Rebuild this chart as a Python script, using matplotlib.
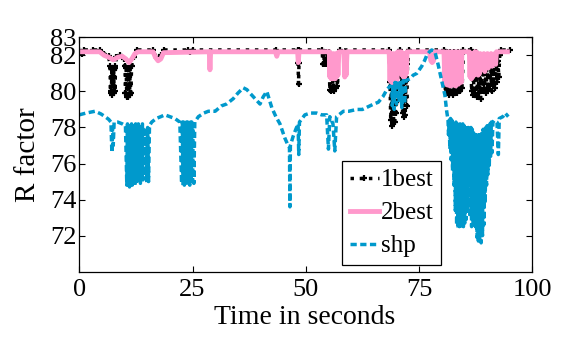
import numpy as np
import matplotlib
matplotlib.use("Agg")
import matplotlib.pyplot as plt

plt.rcParams['font.family'] = ['Liberation Serif', 'DejaVu Serif']

# 1best (black dotted with + markers)
t1 = [0.0, 0.5, 1.0, 3.0, 4.5, 5.5, 6.5,
      6.8, 6.9, 7.0, 7.1, 7.2, 7.3, 7.4, 7.5, 7.6, 7.7, 7.8, 7.9, 8.0, 8.2,
      9.0, 9.8,
      10.1, 10.2, 10.35, 10.5, 10.65, 10.8, 10.95, 11.1, 11.25, 11.4, 11.55,
      12.0, 12.8, 16.3, 16.9, 17.5, 18.1, 18.7, 24.0, 24.5, 25.0, 43.5,
      48.2, 48.3, 48.4, 48.5, 48.6, 53.6,
      53.8, 53.95, 54.1, 54.25, 54.4, 54.55, 54.7, 54.85, 55.0, 55.15,
      55.3, 55.45, 55.6, 55.75, 55.9, 56.05, 56.2, 56.4, 56.6, 56.8, 57.0, 57.2,
      57.5, 68.4,
      68.6, 68.75, 68.9, 69.05, 69.2, 69.35, 69.5, 69.65, 69.8, 69.95, 70.1, 70.3, 70.45,
      70.8,
      71.2, 71.35, 71.5, 71.65, 71.8, 71.95, 72.1, 72.3, 72.45,
      72.8, 80.5,
      80.7, 80.9, 81.1, 81.3, 81.5, 81.7, 81.9, 82.1, 82.3, 82.5, 82.7, 82.9,
      83.1, 83.3, 83.5, 83.7, 83.9, 84.1, 84.3, 84.5,
      84.8, 86.4,
      86.6, 86.8, 87.0, 87.2, 87.4, 87.6, 87.8, 88.0, 88.2, 88.4, 88.6, 88.8,
      89.0, 89.2, 89.4, 89.6, 89.8, 90.0, 90.2, 90.4, 90.6, 90.8, 91.0, 91.2,
      91.4, 91.6, 91.8, 92.0, 92.2, 92.4, 92.6, 92.8,
      93.1, 95.1]
r1 = [82.3, 82.1, 82.3, 82.3, 82.3, 82.1, 81.95,
      81.4, 80.0, 81.3, 79.9, 81.3, 79.8, 81.3, 79.9, 81.2, 79.9, 81.3, 80.0, 81.4, 81.9,
      82.0, 81.8,
      81.4, 79.9, 81.3, 79.7, 81.3, 79.7, 81.3, 79.8, 81.3, 79.9, 81.4,
      81.9, 82.3, 82.3, 81.9, 81.8, 82.0, 82.3, 82.3, 82.2, 82.3, 82.3,
      82.3, 81.6, 80.4, 81.6, 82.3, 82.3,
      81.5, 82.2, 81.5, 82.2, 81.5, 82.2, 81.5, 82.1, 81.6, 82.2,
      80.1, 81.8, 80.0, 81.5, 80.1, 81.7, 80.0, 81.5, 80.2, 81.6, 80.3, 81.9,
      82.3, 82.3,
      80.5, 78.4, 80.3, 78.1, 80.2, 78.2, 80.4, 78.3, 80.1, 78.8, 80.3, 79.5, 81.0,
      82.3,
      80.8, 78.8, 80.6, 78.6, 80.5, 78.7, 80.6, 79.2, 81.5,
      82.3, 82.3,
      80.4, 79.9, 82.2, 80.0, 82.0, 79.8, 82.2, 79.9, 81.8, 79.8, 82.2, 80.0,
      82.1, 79.9, 82.2, 80.1, 82.0, 80.0, 81.9, 80.2,
      82.3, 82.3,
      80.0, 82.2, 79.8, 82.1, 79.9, 82.2, 79.7, 81.9, 79.9, 81.8, 79.6, 81.6,
      80.0, 81.7, 80.2, 81.6, 79.9, 81.8, 80.1, 81.6, 80.3, 81.7, 80.0, 81.8,
      80.4, 81.6, 80.2, 81.9, 80.5, 81.7, 80.8, 82.0,
      82.3, 82.3]

# 2best (pink solid)
t2 = [0.0, 4.5, 5.5, 6.5, 7.5, 8.5, 9.5, 10.3, 11.0, 11.6, 12.3, 13.0,
      16.3, 16.8, 17.4, 18.0, 18.6, 28.7, 28.85, 29.0, 43.3, 43.6, 43.9,
      48.2, 48.35, 48.5, 55.2,
      55.3, 55.45, 55.6, 55.75, 55.9, 56.05, 56.2, 56.35, 56.5, 56.65, 56.8, 56.95, 57.1, 57.3,
      58.4, 58.6, 58.75, 58.9, 59.1,
      68.4,
      68.6, 68.75, 68.9, 69.05, 69.2, 69.35, 69.5, 69.65, 69.8, 69.95, 70.1, 70.3,
      71.1, 71.25, 71.4, 71.55, 71.7, 71.85, 72.0, 72.2, 72.35,
      77.3, 77.6, 77.9, 78.2, 78.5, 80.5,
      80.7, 80.85, 81.0, 81.15, 81.3, 81.45, 81.6, 81.75, 81.9, 82.05, 82.2, 82.35,
      82.5, 82.65, 82.8, 82.95, 83.1, 83.25, 83.4, 83.55, 83.7, 83.85, 84.0, 84.15,
      84.3, 84.45,
      84.7, 86.1,
      86.25, 86.4, 86.55, 86.7, 86.85, 87.0, 87.15, 87.3,
      87.6,
      87.75, 87.9, 88.05, 88.2, 88.35, 88.5, 88.7, 88.9, 89.1, 89.3, 89.5, 89.7,
      89.9, 90.1, 90.3, 90.5, 90.7, 90.9, 91.1, 91.3, 91.5, 91.7, 91.9, 92.1,
      94.5]
r2 = [82.2, 82.2, 82.0, 81.9, 81.75, 81.9, 81.95, 81.8, 81.6, 81.8, 82.1, 82.2,
      82.2, 81.9, 81.7, 81.8, 82.15, 82.2, 81.2, 82.2, 82.2, 81.95, 82.2,
      82.2, 81.6, 82.2, 82.2,
      80.8, 82.1, 80.7, 82.0, 80.7, 82.1, 80.8, 82.0, 80.7, 82.1, 80.8, 82.0, 80.9, 82.2,
      82.2, 80.8, 82.1, 80.9, 82.2,
      82.2,
      80.6, 82.1, 80.5, 82.0, 80.5, 82.1, 80.6, 82.0, 80.5, 82.1, 80.6, 82.2,
      82.2, 80.9, 82.1, 80.8, 82.0, 80.8, 82.1, 81.0, 82.2,
      82.2, 81.7, 81.6, 81.7, 82.2, 82.2,
      80.5, 82.1, 80.4, 82.2, 80.35, 82.1, 80.4, 82.2, 80.3, 82.1, 80.4, 82.2,
      80.35, 82.1, 80.4, 82.2, 80.3, 82.1, 80.5, 82.2, 80.4, 82.1, 80.6, 82.2,
      80.5, 82.1,
      82.2, 82.2,
      80.8, 82.1, 80.7, 82.0, 80.8, 82.1, 80.9, 82.2,
      82.2,
      81.0, 82.1, 80.9, 82.0, 81.0, 82.1, 81.2, 82.0, 81.3, 82.1, 81.1, 82.0,
      81.4, 82.1, 81.3, 82.0, 81.5, 82.1, 81.4, 82.0, 81.6, 82.1, 81.5, 82.2,
      82.2]

# shp (blue dashed)
t3 = [0.0, 1.5, 3.5, 4.8, 5.7, 6.5, 7.0, 7.2, 7.35, 7.5, 7.7, 8.5, 9.5, 10.2,
      10.5, 10.65, 10.8, 10.95, 11.1, 11.25, 11.4, 11.55, 11.7, 11.85, 12.0, 12.15,
      12.3, 12.45, 12.6, 12.75, 12.9, 13.05, 13.2, 13.35, 13.5, 13.65, 13.8, 13.95,
      14.1, 14.3, 14.5, 14.7, 14.9, 15.1, 15.3, 15.5,
      16.0, 17.0, 18.0, 18.9, 20.0, 21.1, 22.2,
      22.6, 22.75, 22.9, 23.05, 23.2, 23.35, 23.5, 23.65, 23.8, 23.95, 24.1, 24.25,
      24.4, 24.55, 24.7, 24.85, 25.0, 25.15, 25.3, 25.5,
      26.3, 27.5, 28.5, 30.0, 31.4, 32.5, 34.0, 35.0, 36.2, 37.0, 37.7, 38.8,
      39.9, 40.6, 41.4, 42.0, 42.5, 43.4, 44.3, 45.4, 46.1, 46.4, 46.5, 46.6,
      47.2, 47.8, 48.3, 48.45, 48.6, 49.8, 51.0, 52.4, 53.5, 54.6, 55.0, 55.3,
      56.0, 56.4, 56.8, 58.3, 59.5, 61.2, 62.5, 64.2, 65.0, 66.0, 67.0, 67.9, 68.6,
      69.0, 69.1, 69.3, 69.5, 69.7, 70.0, 70.3, 70.6, 70.9, 71.2, 71.5, 71.8, 72.1,
      73.0, 73.7, 74.5, 75.6, 76.2, 76.7, 77.3, 77.8, 78.5, 79.2, 80.0, 80.7,
      81.1, 81.4,
      81.5, 81.65, 81.8, 81.95, 82.1, 82.25, 82.4, 82.55, 82.7, 82.85, 83.0, 83.15,
      83.3, 83.45, 83.6, 83.75, 83.9, 84.05, 84.2, 84.35, 84.5, 84.65, 84.8, 84.95,
      85.1, 85.25, 85.4, 85.55, 85.7, 85.85, 86.0, 86.15, 86.3, 86.45, 86.6, 86.75,
      86.9, 87.05, 87.2, 87.35, 87.5, 87.65, 87.8, 87.95, 88.1, 88.25, 88.4, 88.55,
      88.7, 88.85, 89.0, 89.15, 89.3, 89.45, 89.6, 89.75, 89.9, 90.05, 90.2, 90.35,
      90.5, 90.65, 90.8, 90.95, 91.1, 91.3,
      91.6, 92.2, 92.5, 92.7, 93.5, 94.0, 94.7]
r3 = [78.7, 78.8, 78.9, 78.75, 78.6, 78.45, 78.3, 76.6, 78.0, 77.0, 78.3, 78.3, 78.2, 78.1,
      74.8, 78.2, 74.7, 78.1, 74.7, 78.2, 74.9, 78.2, 74.8, 78.1, 74.9, 78.2,
      74.8, 78.2, 75.0, 78.1, 74.9, 78.2, 75.0, 78.2, 74.9, 78.1, 75.0, 78.2,
      75.1, 78.0, 75.3, 77.8, 74.9, 78.0, 75.0, 78.1,
      78.3, 78.5, 78.6, 78.7, 78.6, 78.5, 78.3,
      74.9, 78.3, 74.8, 78.3, 74.8, 78.2, 74.9, 78.3, 74.8, 78.3, 74.9, 78.2,
      74.8, 78.3, 74.9, 78.3, 75.0, 78.2, 74.9, 78.3,
      78.6, 78.8, 78.9, 78.9, 79.2, 79.3, 79.6, 79.9, 80.2, 80.1, 79.9, 79.6,
      79.3, 79.7, 80.0, 79.5, 79.1, 78.6, 78.2, 77.4, 77.0, 76.9, 73.6, 77.0,
      77.5, 77.9, 78.2, 76.5, 78.3, 78.7, 78.8, 78.8, 78.7, 78.7, 76.8, 78.6,
      78.2, 76.7, 78.6, 78.9, 78.9, 79.0, 79.0, 79.2, 79.3, 79.4, 79.7, 80.1, 80.3,
      80.2, 79.2, 80.4, 79.0, 80.5, 79.3, 80.6, 79.4, 80.5, 79.1, 80.6, 79.3, 80.6,
      80.7, 80.9, 81.0, 81.4, 81.7, 82.0, 82.2, 82.3, 82.2, 81.5, 80.6, 79.8,
      78.9, 78.4,
      77.6, 78.4, 76.8, 78.5, 76.2, 78.4, 75.6, 78.3, 74.8, 78.4, 73.4, 78.3,
      72.6, 78.2, 72.4, 78.3, 72.5, 78.2, 72.4, 78.1, 72.6, 78.2, 72.5, 78.1,
      72.7, 78.0, 72.9, 78.1, 73.3, 78.0, 73.6, 77.9, 73.0, 78.0, 72.5, 77.9,
      72.6, 77.7, 73.4, 77.6, 72.4, 77.6, 71.9, 77.5, 71.7, 77.6, 71.8, 77.7,
      71.6, 77.8, 72.0, 77.9, 72.6, 77.9, 73.8, 78.0, 74.8, 78.1, 75.4, 78.2,
      75.9, 78.2, 76.4, 78.3, 76.6, 78.3,
      78.4, 78.3, 76.5, 78.5, 78.6, 78.8, 78.6]

xticks = [0, 25, 50, 75, 100]
yticks = [72, 74, 76, 78, 80, 82, 83]

fig = plt.figure(figsize=(5.66, 3.49), dpi=100)
ax = fig.add_axes([0.140, 0.2215, 0.8005, 0.6715])

ax.plot(t1, r1, color='black', linestyle=':', linewidth=2.5,
        marker='+', markersize=5, markeredgewidth=1.6, label='1best')
ax.plot(t2, r2, color='#ff99cc', linestyle='-', linewidth=3.5, label='2best')
ax.plot(t3, r3, color='#0099cc', linestyle='--', linewidth=2.5,
        dashes=(1.8, 1.0), label='shp')

ax.set_xlim(0, 100)
ax.set_ylim(70, 83)
ax.set_xticks(xticks)
ax.set_yticks(yticks)
ax.tick_params(direction='in', top=True, right=True, length=4, width=0.8,
               labelsize=19)
ax.tick_params(axis='x', pad=5)
ax.tick_params(axis='y', pad=2)
for s in ax.spines.values():
    s.set_linewidth(0.9)

ax.set_xlabel('Time in seconds', fontsize=20)
ax.set_ylabel('R factor', fontsize=21)
ax.xaxis.set_label_coords(0.498, -0.14)
ax.yaxis.set_label_coords(-0.085, 0.5)

leg = ax.legend(loc='lower left', bbox_to_anchor=(0.581, 0.029), borderaxespad=0,
                fontsize=18, numpoints=1, handlelength=1.15, handletextpad=0.1,
                labelspacing=0.42, borderpad=0.3, fancybox=False, framealpha=1)
leg.get_frame().set_edgecolor('black')
leg.get_frame().set_linewidth(0.9)

fig.savefig('out.png', dpi=100)
